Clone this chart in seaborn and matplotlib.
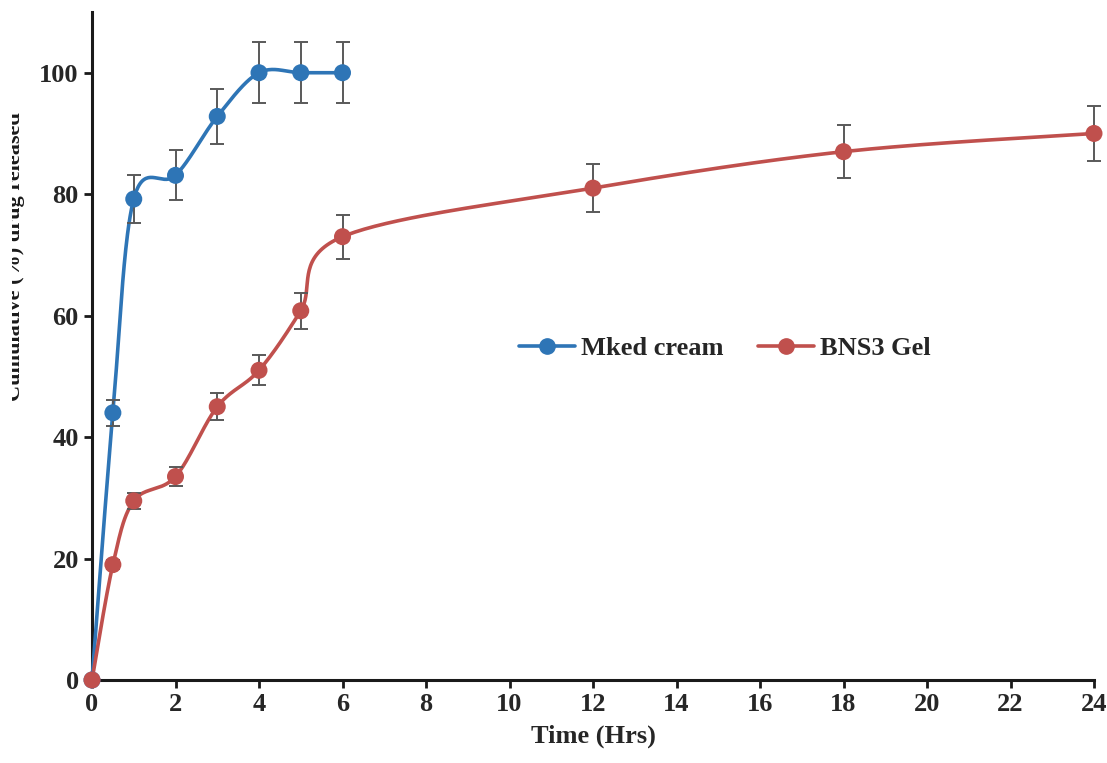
import numpy as np
import pandas as pd
import matplotlib
matplotlib.use("Agg")
import matplotlib.pyplot as plt
import seaborn as sns
from matplotlib.lines import Line2D
from matplotlib.transforms import Bbox

# data
mked_time = [0, 0.5, 1, 2, 3, 4, 5, 6]
mked_release = [0, 44, 79.2, 83.1, 92.8, 100, 100, 100]
mked_err = [0, 2.1, 3.9, 4.1, 4.6, 5, 5, 5]

gel_time = [0, 0.5, 1, 2, 3, 4, 5, 6, 12, 18, 24]
gel_release = [0, 19, 29.5, 33.5, 45, 51, 60.8, 73, 81, 87, 90]
gel_err = [0, 0.8, 1.3, 1.6, 2.2, 2.5, 3.0, 3.6, 4.0, 4.4, 4.5]

x_ticks = list(range(0, 25, 2))
y_ticks = [0, 20, 40, 60, 80, 100]

BLUE = "#2E75B6"
RED = "#C0504D"
GREY = "#595959"


def smooth(x, y, sx=41.75, sy=6.08, n=40):
    # Excel style smoothed line: cubic bezier through points, tension 1/6
    p = np.column_stack([np.asarray(x) * sx, np.asarray(y) * sy])
    out = [p[0]]
    for i in range(len(p) - 1):
        p0 = p[i - 1] if i > 0 else p[i]
        p1, p2 = p[i], p[i + 1]
        p3 = p[i + 2] if i + 2 < len(p) else p[i + 1]
        c1 = p1 + (p2 - p0) / 6
        c2 = p2 - (p3 - p1) / 6
        t = np.linspace(0, 1, n)[1:, None]
        seg = ((1 - t) ** 3) * p1 + 3 * ((1 - t) ** 2) * t * c1 + 3 * (1 - t) * t ** 2 * c2 + t ** 3 * p2
        out.extend(seg)
    out = np.array(out)
    return out[:, 0] / sx, out[:, 1] / sy


sns.set_style("ticks")
plt.rcParams["font.family"] = ["Liberation Serif", "DejaVu Serif"]
plt.rcParams["font.weight"] = "bold"

fig = plt.figure(figsize=(11.07, 7.63), dpi=100)
ax = fig.add_axes([92 / 1107, 1 - 680 / 763, (1094 - 92) / 1107, (680 - 12) / 763])

df_m = pd.DataFrame({"t": mked_time, "r": mked_release})
df_g = pd.DataFrame({"t": gel_time, "r": gel_release})

for t, r, e, c in [(mked_time, mked_release, mked_err, BLUE), (gel_time, gel_release, gel_err, RED)]:
    xs, ys = smooth(t, r)
    ax.plot(xs, ys, color=c, lw=2.6, zorder=3, clip_on=False, solid_capstyle="round")
    ax.errorbar(t, r, yerr=e, fmt="none", ecolor=GREY, elinewidth=1.4,
                capsize=5, capthick=1.4, zorder=4, clip_on=False)

sns.scatterplot(data=df_m, x="t", y="r", color=BLUE, s=150, edgecolor="none",
                zorder=5, clip_on=False, ax=ax)
sns.scatterplot(data=df_g, x="t", y="r", color=RED, s=150, edgecolor="none",
                zorder=5, clip_on=False, ax=ax)

ax.set_xlim(0, 24)
ax.set_ylim(0, 110)
ax.set_xticks(x_ticks)
ax.set_yticks(y_ticks)
ax.tick_params(axis="both", labelsize=19, length=6, width=2, direction="out", color="#1a1a1a")
for lab in ax.get_xticklabels() + ax.get_yticklabels():
    lab.set_fontweight("bold")
sns.despine(ax=ax)
for s in ["left", "bottom"]:
    ax.spines[s].set_linewidth(2.2)
    ax.spines[s].set_color("#1a1a1a")

ax.set_xlabel("Time (Hrs)", fontsize=19, fontweight="bold", labelpad=6)
ax.set_ylabel("")

# y label is cut off on the left in the original
ylab = fig.text(25 / 1107, 1 - 257 / 763, "Cumulative (%) drug released", rotation=90,
                ha="right", va="center", fontsize=16, fontweight="bold", color="#1a1a1a")
ylab.set_clip_box(Bbox([[12, 0], [1107, 763]]))
ylab.set_clip_on(True)

handles = [
    Line2D([], [], color=BLUE, lw=2.6, marker="o", markersize=11, label="Mked cream"),
    Line2D([], [], color=RED, lw=2.6, marker="o", markersize=11, label="BNS3 Gel"),
]
fig.legend(handles=handles, loc="center", bbox_to_anchor=(725 / 1107, 1 - 348 / 763),
           ncol=2, frameon=False, handlelength=2.1, columnspacing=1.3,
           handletextpad=0.25, prop={"weight": "bold", "size": 19})

fig.savefig("out.png", dpi=100)
